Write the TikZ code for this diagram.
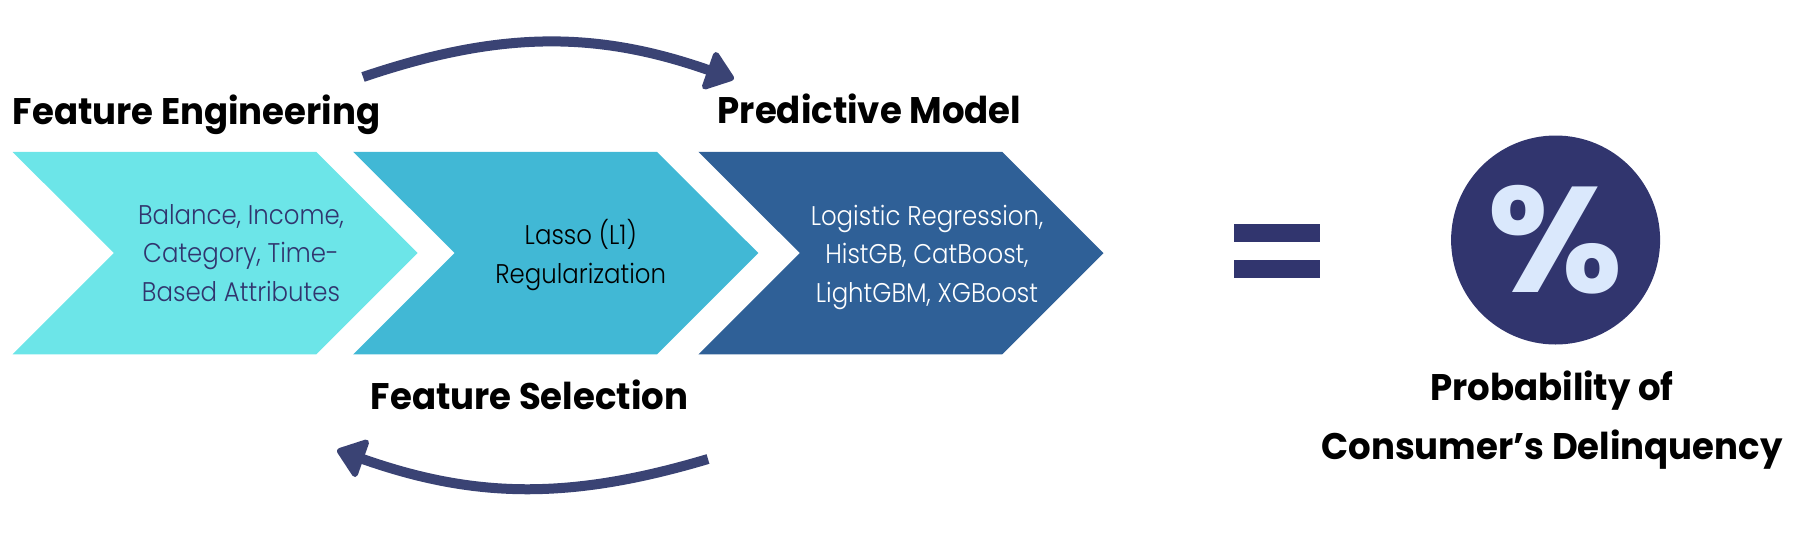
\documentclass[tikz,border=0pt]{standalone}
\usepackage{fontspec}
\usepackage{xcolor}
\setmainfont{Poppins}
\newfontfamily\headfont[FakeStretch=0.96]{Poppins Bold}
\newfontfamily\bodyfont[FakeStretch=0.905]{Poppins Light}
\newfontfamily\pctfont[FakeStretch=1.04]{Poppins Bold}
\usetikzlibrary{positioning,arrows.meta,shapes.symbols}

\definecolor{chevcyan}{HTML}{6CE5E8}
\definecolor{chevsky}{HTML}{41B8D5}
\definecolor{chevblue}{HTML}{2F6097}
\definecolor{navy}{HTML}{31356E}
\definecolor{arrownavy}{HTML}{3A4374}
\definecolor{pale}{HTML}{DAE8FC}

\begin{document}
\begin{tikzpicture}[x=1pt, y=-1pt,
    chev/.style={signal, signal to=east, signal from=west, signal pointer angle=90,
        minimum width=405pt, minimum height=202.5pt, inner sep=0pt, outer sep=0pt, fill=#1},
    head/.style={font=\headfont\fontsize{37}{59}\selectfont, text=black, inner sep=0pt, align=center},
    body/.style={font=\bodyfont\fontsize{27}{38.5}\selectfont, inner sep=0pt, align=center},
    bar/.style={fill=navy, minimum width=86pt, minimum height=18pt, inner sep=0pt, outer sep=0pt},
    arr/.style={-{Triangle[length=30pt, width=44pt, line width=6pt, round]}, line width=10pt, draw=arrownavy},
]
\useasboundingbox (0,0) rectangle (1800,538);

% --- Chevrons ---
\node[chev=chevcyan] (fe_chev) at (215,253) {};
\node[chev=chevsky, right=37pt of fe_chev] (fs_chev) {};
\node[chev=chevblue, right=41.5pt of fs_chev] (pm_chev) {};

% --- Chevron texts ---
\node[body, text=navy, xshift=26pt] (fe_txt) at (fe_chev) {Balance, Income,\\Category, Time-\\Based Attributes};
\node[body, text=black, xshift=25pt, yshift=-2pt] (fs_txt) at (fs_chev) {Lasso (L1)\\Regularization};
\node[body, text=white, xshift=26pt, yshift=-4pt] (pm_txt) at (pm_chev) {Logistic Regression,\\HistGB, CatBoost,\\LightGBM, XGBoost};

% --- Headings ---
\node[head, anchor=base west] (fe_head) at (12.5,124) {Feature Engineering};
\node[head, anchor=base west] (pm_head) at (717.5,123) {Predictive Model};
\node[head, anchor=base west] (fs_head) at (370.5,409) {Feature Selection};

% --- Loop arrows ---
\coordinate (top_start) at (363,77);
\coordinate (top_end) at (734,79);
\coordinate (low_start) at (708,459);
\coordinate (low_end) at (337,450);
\draw[arr] (top_start) to[bend left=19] (top_end);
\draw[arr] (low_start) to[bend left=18] (low_end);

% --- Equals sign ---
\node[bar] (eq_top) at (1277,233) {};
\node[bar, below=18pt of eq_top] (eq_low) {};

% --- Result ---
\node[circle, fill=navy, minimum size=209pt, inner sep=0pt, outer sep=0pt, text=pale,
      font=\pctfont\fontsize{150}{150}\selectfont] (pct) at (1555.6,240) {\%};
\node[head, anchor=base] (prob_txt) at (1552,459) {Probability of\\Consumer’s Delinquency};

\end{tikzpicture}
\end{document}
